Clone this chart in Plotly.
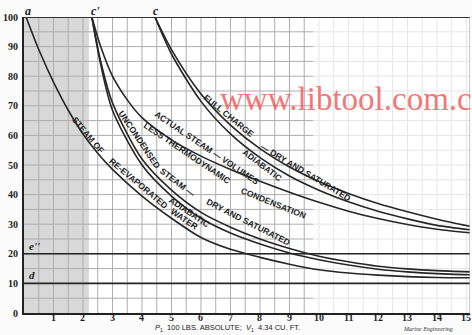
import plotly.graph_objects as go

# ---- data (volume in cu. ft. -> pressure in lbs absolute) ----
x_tick_vals = list(range(1, 16))
y_tick_vals = list(range(0, 101, 10))

full_dry_x = [4.44, 5, 6, 7, 8, 9, 10, 11, 12, 13, 14, 15.12]
full_dry_y = [100, 89, 74, 63.5, 55.5, 49.3, 44.4, 40.4, 37, 34.2, 31.7, 29.3]

full_adi_x = [4.44, 5, 6, 7, 8, 9, 10, 11, 12, 13, 14, 15.12]
full_adi_y = [100, 87.5, 71.5, 60.5, 52.5, 46.3, 41.5, 37.6, 34.4, 31.8, 29.6, 28.1]

actual_x = [2.3, 2.6, 3, 3.5, 4, 5, 6, 7, 8, 9, 10, 11, 12, 13, 14, 15.12]
actual_y = [100, 90, 80, 72, 66, 58.5, 53, 48.5, 44.5, 40.8, 37.4, 34.4, 31.9, 29.9, 28.3, 27.1]

uncond_dry_x = [2.3, 2.6, 3, 4, 5, 6, 7, 8, 9, 10, 11, 12, 13, 14, 15.12]
uncond_dry_y = [100, 85, 71, 52, 41.5, 34, 29, 25, 21.8, 19.2, 17.3, 15.8, 14.9, 14.3, 13.9]

uncond_adi_x = [2.3, 2.6, 3, 4, 5, 6, 7, 8, 9, 10, 11, 12, 13, 14, 15.12]
uncond_adi_y = [100, 84, 68.5, 50, 39.5, 32, 27, 23.3, 20.3, 18, 16.2, 14.8, 13.9, 13.3, 12.9]

reevap_x = [0.07, 0.5, 1, 1.5, 2, 2.5, 3, 4, 5, 6, 7, 8, 9, 10, 11, 12, 13, 14, 15.12]
reevap_y = [100, 89, 78, 68.5, 60.5, 54, 48.5, 39.5, 32, 25.5, 21.5, 18.8, 16.5, 14.6, 13.5, 12.8, 12.3, 12, 11.9]

back_levels = [20, 10]
back_names = ["e''", "d"]

X_MAX = 15.12
FADE_X = 9.8   # the printed grid fades out to the right on the scanned page

fig = go.Figure()

LINE = '#262626'
for xs, ys in [(full_dry_x, full_dry_y), (full_adi_x, full_adi_y), (actual_x, actual_y),
               (uncond_dry_x, uncond_dry_y), (uncond_adi_x, uncond_adi_y), (reevap_x, reevap_y)]:
    fig.add_trace(go.Scatter(x=xs, y=ys, mode='lines',
                             line=dict(color=LINE, width=1.6, shape='spline', smoothing=0.8),
                             showlegend=False, hoverinfo='skip'))

for lvl in back_levels:
    fig.add_trace(go.Scatter(x=[0, X_MAX], y=[lvl, lvl], mode='lines',
                             line=dict(color=LINE, width=1.6), showlegend=False, hoverinfo='skip'))

# ---- pixel helpers for annotation placement (plot area: x 24..470, y 17..313) ----
def px2x(px):
    return (px - 24) / (446 / X_MAX)

def py2y(py):
    return (313 - py) / 2.96

LBL = dict(family='Liberation Sans, Arial, sans-serif', size=8.6, color='#1e1e1e')

labels = [
    ("STEAM OF", 88, 135, 50),
    ("RE-EVAPORATED", 138, 183, 40),
    ("WATER", 184, 219, 34),
    ("UNCONDENSED", 139, 139, 56),
    ("STEAM —", 177, 182, 37),
    ("DRY AND SATURATED", 248, 222, 27),
    ("ADIABATIC", 189, 212, 34),
    ("ACTUAL STEAM — VOLUMES", 207, 148, 34),
    ("LESS THERMODYNAMIC", 187, 153, 34),
    ("CONDENSATION", 273, 203, 22),
    ("FULL CHARGE", 229, 116, 39),
    ("— DRY AND SATURATED", 305, 172, 31),
    ("ADIABATIC", 262, 165, 37),
]
for txt, px, py, ang in labels:
    fig.add_annotation(x=px2x(px), y=py2y(py), text='<b>' + txt + '</b>', showarrow=False,
                       textangle=ang, font=LBL, xref='x', yref='y')

SERIF = dict(family='Liberation Serif, Times New Roman, serif', size=12, color='#1e1e1e')
# point letters above the top border
for nm, px in [('a', 28), ("c'", 95), ('c', 156)]:
    fig.add_annotation(x=px2x(px), y=1.0, yref='paper', yanchor='bottom', yshift=-3,
                       text='<i><b>' + nm + '</b></i>', showarrow=False, font=SERIF)
for lvl, nm in zip(back_levels, back_names):
    fig.add_annotation(x=0.1, y=lvl, text='<i><b>' + nm + '</b></i>', showarrow=False,
                       xanchor='left', yanchor='bottom', font=dict(SERIF, size=11))

TICKF = dict(family='Liberation Serif, Times New Roman, serif', size=10, color='#1e1e1e', weight='bold')
# x tick labels (set tight under the axis, as printed)
for v in x_tick_vals:
    fig.add_annotation(x=v, y=0, yref='paper', yanchor='top', yshift=3, text=str(v),
                       showarrow=False, font=TICKF)

# axis title and credit
fig.add_annotation(x=px2x(153), y=0, yref='paper', xanchor='left', yanchor='bottom', yshift=-22,
                   text="<i>P</i><sub>1</sub>  100 LBS. ABSOLUTE;  <i>V</i><sub>1</sub>  4.34 CU. FT.",
                   showarrow=False, font=dict(family='Liberation Sans, Arial, sans-serif', size=7.5, color='#222'))
fig.add_annotation(x=px2x(428), y=0, yref='paper', yanchor='bottom', yshift=-21, text="<i>Marine Engineering</i>",
                   showarrow=False, font=dict(family='Liberation Serif, serif', size=6, color='#333'))

# watermark present on the scanned page
fig.add_annotation(x=px2x(218), y=py2y(99), text="www.libtool.com.cn", showarrow=False, xanchor='left',
                   font=dict(family='Liberation Serif, Times New Roman, serif', size=33, color='rgba(240,96,96,0.85)'))

# shaded left strip (scan tone)
fig.add_shape(type='rect', x0=0, x1=2.2, y0=0, y1=100, fillcolor='#d8d8d8', line_width=0, layer='below')

# grid (graph paper), darker on the left part, faded on the right
GRID = '#adadad'
GRID_FADE = '#e6e6e6'
for i in range(1, int(X_MAX * 2) + 1):
    gx = i * 0.5
    fig.add_shape(type='line', x0=gx, x1=gx, y0=0, y1=100, layer='below',
                  line=dict(color=GRID if gx < FADE_X else GRID_FADE, width=1))
for j in range(1, 20):
    gy = j * 5
    fig.add_shape(type='line', x0=0, x1=FADE_X, y0=gy, y1=gy, layer='below', line=dict(color=GRID, width=1))
    fig.add_shape(type='line', x0=FADE_X, x1=X_MAX, y0=gy, y1=gy, layer='below', line=dict(color=GRID_FADE, width=1))

# top and right borders
fig.add_shape(type='line', x0=0, x1=X_MAX, y0=100, y1=100, line=dict(color='#333', width=2))
fig.add_shape(type='line', x0=X_MAX, x1=X_MAX, y0=0, y1=100, line=dict(color='#999', width=1))

fig.update_xaxes(range=[0, X_MAX], showticklabels=False, showgrid=False,
                 showline=True, linecolor='#222', linewidth=2, ticks='', zeroline=False)
fig.update_yaxes(range=[0, 100], tickmode='array', tickvals=y_tick_vals, showgrid=False,
                 showline=True, linecolor='#222', linewidth=2, ticks='', zeroline=False,
                 tickfont=TICKF, ticklabelstandoff=2, ticklabeloverflow='allow')

fig.update_layout(width=472, height=335, margin=dict(l=24, r=2, t=17, b=22),
                  paper_bgcolor='#fbfbfb', plot_bgcolor='#ffffff', showlegend=False)

fig.write_html("out.html", config={'displayModeBar': False},
               post_script="document.body.style.margin='0';document.body.style.overflow='hidden';")
